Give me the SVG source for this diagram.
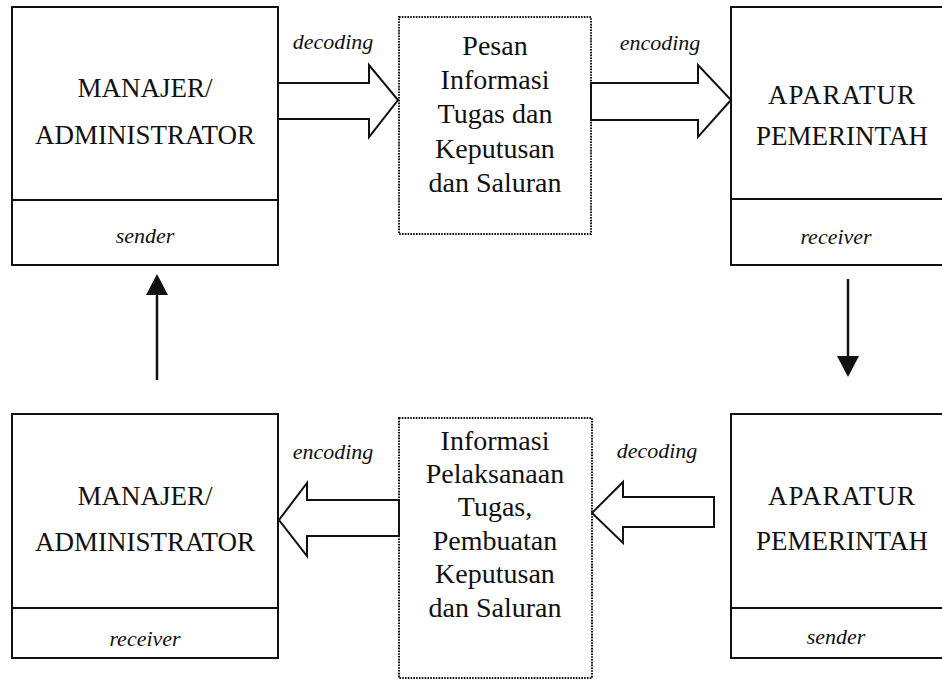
<svg xmlns="http://www.w3.org/2000/svg" width="942" height="681" viewBox="0 0 942 681">
<style>
.box{fill:none;stroke:#111;stroke-width:2}
.dot{fill:none;stroke:#111;stroke-width:2;stroke-dasharray:1.6 1.2}
.blk{fill:#fff;stroke:#111;stroke-width:2;stroke-linejoin:miter}
.t{font-family:"Liberation Serif","Times New Roman",serif;font-size:27px;fill:#111;text-anchor:middle}
.m{font-family:"Liberation Serif","Times New Roman",serif;font-size:28px;fill:#111;text-anchor:middle}
.i{font-family:"Liberation Serif","Times New Roman",serif;font-size:22px;font-style:italic;fill:#111;text-anchor:middle}
</style>
<rect width="942" height="681" fill="#fff"/>
<g id="manajer-sender">
<rect class="box" x="12" y="7" width="266" height="258"/>
<line class="box" x1="12" y1="200" x2="278" y2="200"/>
<text class="t" x="145" y="97">MANAJER/</text>
<text class="t" x="145" y="144">ADMINISTRATOR</text>
<text class="i" x="145" y="243">sender</text>
</g>
<g id="pesan">
<rect class="dot" x="399" y="17" width="192" height="217"/>
<text class="m" x="495" y="55">Pesan</text>
<text class="m" x="495" y="89">Informasi</text>
<text class="m" x="495" y="123">Tugas dan</text>
<text class="m" x="495" y="158">Keputusan</text>
<text class="m" x="495" y="192">dan Saluran</text>
</g>
<g id="aparatur-receiver">
<path class="box" d="M942,7 H731 V265 H942"/>
<line class="box" x1="731" y1="199" x2="942" y2="199"/>
<text class="t" x="842" y="104" letter-spacing="1">APARATUR</text>
<text class="t" x="842" y="145">PEMERINTAH</text>
<text class="i" x="836" y="244">receiver</text>
</g>
<g id="manajer-receiver">
<rect class="box" x="12" y="414" width="266" height="244"/>
<line class="box" x1="12" y1="608" x2="278" y2="608"/>
<text class="t" x="145" y="505">MANAJER/</text>
<text class="t" x="145" y="551">ADMINISTRATOR</text>
<text class="i" x="145" y="646">receiver</text>
</g>
<g id="informasi">
<rect class="dot" x="399" y="418" width="193" height="260"/>
<text class="m" x="495" y="450">Informasi</text>
<text class="m" x="495" y="483">Pelaksanaan</text>
<text class="m" x="495" y="516">Tugas,</text>
<text class="m" x="495" y="550">Pembuatan</text>
<text class="m" x="495" y="583">Keputusan</text>
<text class="m" x="495" y="617">dan Saluran</text>
</g>
<g id="aparatur-sender">
<path class="box" d="M942,414 H731 V658 H942"/>
<line class="box" x1="731" y1="608" x2="942" y2="608"/>
<text class="t" x="842" y="505" letter-spacing="1">APARATUR</text>
<text class="t" x="842" y="550">PEMERINTAH</text>
<text class="i" x="836" y="644">sender</text>
</g>
<g id="connectors">
<polygon class="blk" points="278,83 369,83 369,65 398,100 369,137 369,119 278,119"/>
<text class="i" x="333" y="49">decoding</text>
<polygon class="blk" points="591,83 698,83 698,65 731,100 698,137 698,120 591,120"/>
<text class="i" x="660" y="50">encoding</text>
<polygon class="blk" points="399,500 307,500 307,483 279,520 307,556 307,536 399,536"/>
<text class="i" x="333" y="459">encoding</text>
<polygon class="blk" points="714,497 623,497 623,482 592,513 623,543 623,527 714,527"/>
<text class="i" x="657" y="458">decoding</text>
<line x1="157" y1="380" x2="157" y2="294" stroke="#111" stroke-width="2.5"/>
<polygon points="146,295 168,295 157,274" fill="#111"/>
<line x1="848" y1="279" x2="848" y2="357" stroke="#111" stroke-width="2.5"/>
<polygon points="837,356 859,356 848,377" fill="#111"/>
</g>
</svg>
